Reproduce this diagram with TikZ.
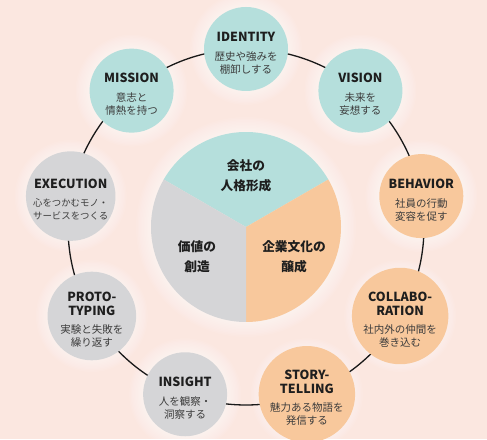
\documentclass[tikz,border=0pt]{standalone}
\usepackage{fontspec}
\setmainfont{Noto Sans CJK JP}
\usetikzlibrary{calc}
\definecolor{bgc}{HTML}{FBE7E0}
\definecolor{cteal}{HTML}{B5DFDC}
\definecolor{corange}{HTML}{F8C89C}
\definecolor{cgray}{HTML}{D5D5D7}
\definecolor{ttlc}{HTML}{1E1E1E}
\definecolor{jpc}{HTML}{3C3C3C}
\newcommand\ttl[1]{{\bfseries\fontsize{12.5}{14}\selectfont\color{ttlc}#1}}
\newcommand\tstrut{\rule{0pt}{17pt}}
\begin{document}
\begin{tikzpicture}[x=1pt,y=1pt,
  sc/.style={circle,minimum size=84pt,inner sep=0pt,align=center,text=jpc,
    font=\fontsize{10.5}{13}\selectfont},
  ring/.style={line width=1.3pt,draw=black!90},
  ptext/.style={align=center,text=ttlc,font=\bfseries\fontsize{12.7}{20}\selectfont}]
\fill[bgc] (0,0) rectangle (487,439);
\useasboundingbox (0,0) rectangle (487,439);
\coordinate (c) at (246,212);
% glows
\foreach \a in {90,130,...,410}{
  \foreach \i in {1,...,10}{
    \fill[white,opacity=0.08] ($(c)+(\a:178)$) circle ({42+\i*1.4});
  }
}
\foreach \i in {1,...,10}{
  \fill[white,opacity=0.08] (c) circle ({95+\i*1.5});
}
\draw[ring] (c) circle (178);
% central pie
\fill[cteal] (c) -- ++(30:95) arc[start angle=30,end angle=150,radius=95] -- cycle;
\fill[corange] (c) -- ++(-90:95) arc[start angle=-90,end angle=30,radius=95] -- cycle;
\fill[cgray] (c) -- ++(150:95) arc[start angle=150,end angle=270,radius=95] -- cycle;
\node[ptext] (p1) at ($(c)+(0,51)$) {会社の\\人格形成};
\node[ptext] (p2) at ($(c)+(-49,-30)$) {価値の\\創造};
\node[ptext] (p3) at ($(c)+(48,-30)$) {企業文化の\\醸成};
% outer circles
\node[sc,fill=cteal] (identity) at ($(c)+(90:178)$) {\tstrut\ttl{IDENTITY}\\[6pt]歴史や強みを\\棚卸しする};
\node[sc,fill=cteal] (vision) at ($(c)+(50:178)$) {\tstrut\ttl{VISION}\\[6pt]未来を\\妄想する};
\node[sc,fill=cteal] (mission) at ($(c)+(130:178)$) {\tstrut\ttl{MISSION}\\[6pt]意志と\\情熱を持つ};
\node[sc,fill=cgray] (execution) at ($(c)+(170:178)$) {\tstrut\ttl{EXECUTION}\\[5pt]{\fontsize{9.4}{13}\selectfont 心をつかむモノ・}\\{\fontsize{9.4}{13}\selectfont サービスをつくる}};
\node[sc,fill=cgray] (proto) at ($(c)+(210:178)$) {\tstrut\ttl{PROTO-}\\[1pt]\ttl{TYPING}\\[5pt]実験と失敗を\\繰り返す};
\node[sc,fill=cgray] (insight) at ($(c)+(250:178)$) {\tstrut\ttl{INSIGHT}\\[6pt]人を観察・\\洞察する};
\node[sc,fill=corange] (story) at ($(c)+(290:178)$) {\tstrut\ttl{STORY-}\\[1pt]\ttl{TELLING}\\[5pt]魅力ある物語を\\発信する};
\node[sc,fill=corange] (collab) at ($(c)+(330:178)$) {\tstrut\ttl{COLLABO-}\\[1pt]\ttl{RATION}\\[5pt]社内外の仲間を\\巻き込む};
\node[sc,fill=corange] (behavior) at ($(c)+(10:178)$) {\tstrut\ttl{BEHAVIOR}\\[6pt]社員の行動\\変容を促す};
\end{tikzpicture}
\end{document}
